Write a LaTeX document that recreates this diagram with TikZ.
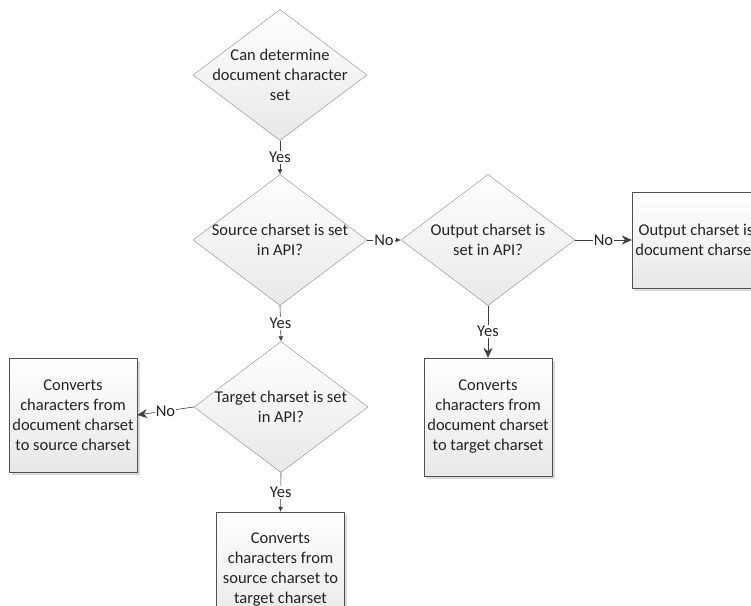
\documentclass[tikz,border=0pt]{standalone}
\usepackage{fontspec}
\setmainfont{Carlito}
\usepackage{tikz}
\usetikzlibrary{arrows.meta, shapes.geometric, shadows}
\definecolor{edgegray}{RGB}{138, 138, 138}
\definecolor{boxgray}{RGB}{80, 80, 80}
\definecolor{linegray}{RGB}{64, 64, 64}
\definecolor{fillgray}{RGB}{232, 232, 232}
\definecolor{textgray}{RGB}{35, 35, 35}

\begin{document}
\begin{tikzpicture}[x=1pt, y=-1pt,
        font=\fontsize{16.5}{20}\selectfont,
        decision/.style={diamond, draw=edgegray, top color=white, bottom color=fillgray,
            inner sep=0pt, minimum width=174pt, minimum height=131pt},
        dtext/.style={align=center, text=textgray},
        action/.style={rectangle, draw=boxgray, top color=white, bottom color=fillgray,
            drop shadow={shadow xshift=2.5pt, shadow yshift=-2.5pt, fill=black!15, opacity=1},
            align=center, text=textgray, inner sep=0pt, minimum width=128pt},
        flow/.style={draw=linegray, semithick, -{Latex[length=5pt, width=5pt]}},
        flowbig/.style={draw=linegray, semithick, -{Stealth[length=10pt, width=9pt]}},
        answer/.style={fill=white, inner sep=1pt, text=textgray}]
        \useasboundingbox (0, 0) rectangle (751, 605);

        % Entscheidungen
        \node[decision, label={[dtext]center:Can determine\\document character\\set}] (canset) at (280, 75) {};
        \node[decision, label={[dtext]center:Source charset is set\\in API?}] (srcset) at (280, 240) {};
        \node[decision, label={[dtext]center:Output charset is\\set in API?}] (outset) at (488, 240) {};
        \node[decision, label={[dtext]center:Target charset is set\\in API?}] (tgtset) at (281, 407) {};

        % Aktionen
        \node[action, minimum height=96pt] (docout) at (696, 240) {Output charset is\\document charset};
        \node[action, minimum height=114pt] (doctosrc) at (73, 415) {Converts\\characters from\\document charset\\to source charset};
        \node[action, minimum height=118pt] (doctotgt) at (488, 417) {Converts\\characters from\\document charset\\to target charset};
        \node[action, minimum height=116pt] (srctotgt) at (280.5, 570) {Converts\\characters from\\source charset to\\target charset};

        % Verbindungen
        \draw[flow] (canset.south) -- node[answer] {Yes} (srcset.north);
        \draw[flow] (srcset.south) -- node[answer] {Yes} (tgtset.north);
        \draw[flow] (srcset.east) -- node[answer] {No} (outset.west);
        \draw[flowbig] (outset.east) -- node[answer] {No} (docout.west);
        \draw[flowbig] (outset.south) -- node[answer] {Yes} (doctotgt.north);
        \draw[flowbig] (tgtset.west) -- node[answer] {No} (doctosrc.east);
        \draw[flow] (tgtset.south) -- node[answer] {Yes} (srctotgt.north);

    \end{tikzpicture}
\end{document}
